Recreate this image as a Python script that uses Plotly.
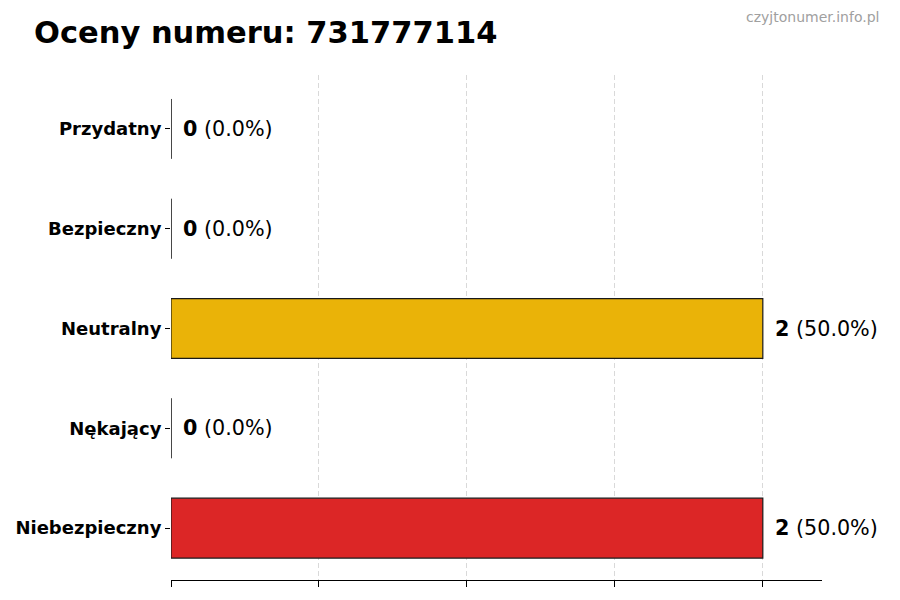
import plotly.graph_objects as go

categories = ["Przydatny", "Bezpieczny", "Neutralny", "Nękający", "Niebezpieczny"]
values = [0, 0, 2, 0, 2]
colors = ["#16a34a", "#2563eb", "#eab308", "#f97316", "#dc2626"]
title = "Oceny numeru: 731777114"
watermark = "czyjtonumer.info.pl"

total = sum(values)
labels = [f"<b>{v}</b> ({(v / total * 100 if total else 0):.1f}%)" for v in values]

fig = go.Figure()
fig.add_trace(go.Bar(
    x=values, y=categories, orientation="h",
    marker=dict(color=colors, line=dict(color="#1a1a1a", width=1.2)),
    width=0.6, showlegend=False, hoverinfo="skip",
))
# thin edge marks for zero-valued bars (the outline of an empty bar)
for i, v in enumerate(values):
    if v == 0:
        fig.add_trace(go.Scatter(
            x=[v, v], y=[i - 0.3, i + 0.3], mode="lines",
            line=dict(color="#1a1a1a", width=1), showlegend=False,
            hoverinfo="skip", yaxis="y2",
        ))
for c, v, t in zip(categories, values, labels):
    fig.add_annotation(x=v, y=c, text=t, showarrow=False, xanchor="left",
                       xshift=10, font=dict(family="DejaVu Sans", size=20.7, color="#000"))

fig.update_layout(
    width=900, height=600,
    margin=dict(l=163, r=86, t=67, b=28, autoexpand=False),
    plot_bgcolor="white", paper_bgcolor="white",
    font=dict(family="DejaVu Sans", color="#000"),
    xaxis=dict(range=[0, 2.2], tickvals=[0, 0.5, 1, 1.5, 2], showticklabels=False,
               ticks="outside", ticklen=6, tickcolor="#000", showline=True,
               linecolor="#000", linewidth=1, showgrid=True, gridcolor="#d9d9d9",
               griddash="5px,3px", gridwidth=1, zeroline=False, fixedrange=True,
               automargin=False),
    yaxis=dict(categoryorder="array", categoryarray=categories,
               range=[4.52, -0.54], ticks="outside", ticklen=5, tickcolor="#000",
               showline=False, showgrid=False, zeroline=False, automargin=False,
               tickfont=dict(family="DejaVu Sans", size=18, color="#000", weight="bold"),
               ticklabelstandoff=0),
    yaxis2=dict(overlaying="y", range=[4.52, -0.54], visible=False),
    annotations=list(fig.layout.annotations) + [
        dict(text=f"<b>{title}</b>", xref="paper", yref="paper", x=-0.2135, y=1.0,
             yshift=43, xanchor="left", yanchor="middle", showarrow=False,
             font=dict(family="DejaVu Sans", size=30.5, color="#000")),
        dict(text=watermark, xref="paper", yref="paper", x=1.0, xshift=59,
             y=1.0, yshift=58, xanchor="right", yanchor="middle", showarrow=False,
             font=dict(family="DejaVu Sans", size=14, color="#a0a0a0")),
    ],
)
fig.write_html("out.html")
